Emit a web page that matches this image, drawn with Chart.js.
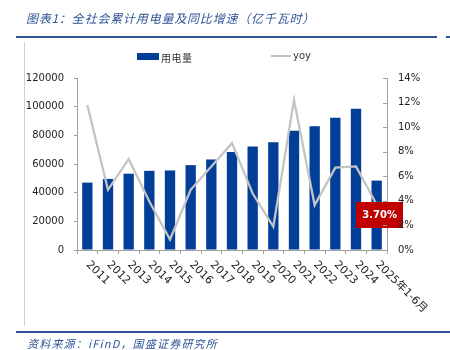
<!DOCTYPE html>
<html>
<head>
<meta charset="utf-8">
<script src="https://cdn.jsdelivr.net/npm/chart.js@4/dist/chart.umd.min.js"></script>
<style>
  html, body { margin: 0; padding: 0; background: #fff; }
  #wrap { position: relative; width: 450px; height: 350px; overflow: hidden; }
  #c { position: absolute; left: 0; top: 0; }
  .txt { position: absolute; white-space: nowrap; line-height: 1; }
  #title { left: 26px; top: 9px; font: italic 12px "Noto Sans CJK SC", sans-serif; letter-spacing: 0.8px; color: #2f5496; }
  #source { left: 27px; top: 335px; font: italic 11px "Noto Sans CJK SC", sans-serif; letter-spacing: 1.2px; color: #2f5496; }
  .rule { position: absolute; background: #2f5496; }
  #frame { position: absolute; left: 24px; top: 42px; width: 1px; height: 284px; background: #cfcfcf; }
  #lgBar { position: absolute; left: 137px; top: 53px; width: 22px; height: 7px; background: #003e98; }
  #lgBarTxt { left: 161px; top: 50px; font: 10px "Noto Sans CJK SC", sans-serif; color: #333; letter-spacing: 0.5px; }
  #lgLine { position: absolute; left: 271px; top: 55px; width: 20px; height: 2px; background: #c4c4c4; }
  #lgLineTxt { left: 293px; top: 50px; font: 10px "DejaVu Sans", sans-serif; color: #333; }
</style>
</head>
<body>
<div id="wrap">
  <canvas id="c" width="450" height="350" style="width:450px;height:350px"></canvas>
  <div class="txt" id="title">图表1：全社会累计用电量及同比增速（亿千瓦时）</div>
  <div class="rule" style="left:16px;top:36px;width:421px;height:2px"></div>
  <div class="rule" style="left:446px;top:36px;width:4px;height:2px"></div>
  <div id="frame"></div>
  <div id="lgBar"></div>
  <div class="txt" id="lgBarTxt">用电量</div>
  <div id="lgLine"></div>
  <div class="txt" id="lgLineTxt">yoy</div>
  <div class="rule" style="left:16px;top:331px;width:434px;height:1.5px"></div>
  <div class="txt" id="source">资料来源：iFinD，国盛证券研究所</div>
</div>
<script>
// Annual electricity consumption (100 million kWh) and growth rate (%)
const categories = ['2011', '2012', '2013', '2014', '2015', '2016', '2017', '2018',
                    '2019', '2020', '2021', '2022', '2023', '2024', '2025年1-6月'];
const consumption = [47001, 49591, 53223, 55233, 55500, 59198, 63077, 68449,
                     72255, 75110, 83128, 86372, 92241, 98521, 48418];
const yoy = [11.8, 4.9, 7.4, 3.95, 0.85, 4.9, 6.8, 8.7,
             4.6, 1.9, 12.2, 3.65, 6.7, 6.8, 3.70];
const leftTicks = { min: 0, max: 120000, step: 20000 };
const rightTicks = { min: 0, max: 14, step: 2 };

const axisGray = '#a0a0a0';
const tickFont = { family: 'DejaVu Sans', size: 10 };

// Slanted category labels, inward right-axis ticks and the badge on the latest growth value
const decorations = {
  id: 'decorations',
  afterDatasetsDraw(chart) {
    const ctx = chart.ctx;
    const meta = chart.getDatasetMeta(1);
    const last = meta.data.length - 1;
    const p = meta.data[last];
    const w = 47, h = 26;
    const cx = p.x + 3, cy = p.y + 10.5;
    ctx.save();
    ctx.fillStyle = '#c00000';
    ctx.fillRect(Math.round(cx - w / 2), Math.round(cy - h / 2), w, h);
    ctx.fillStyle = '#ffffff';
    ctx.font = 'bold 10px "DejaVu Sans"';
    ctx.textAlign = 'center';
    ctx.textBaseline = 'middle';
    ctx.fillText(yoy[last].toFixed(2) + '%', cx, cy + 0.5);
    ctx.restore();
  },
  afterDraw(chart) {
    const ctx = chart.ctx;
    const xs = chart.scales.x;
    const yr = chart.scales.y1;
    ctx.save();
    ctx.font = '11px "DejaVu Sans", "Noto Sans CJK SC"';
    ctx.fillStyle = '#222';
    ctx.textAlign = 'left';
    ctx.textBaseline = 'middle';
    chart.data.labels.forEach((lab, i) => {
      const x = xs.getPixelForTick(i);
      ctx.save();
      ctx.translate(x + 0.5, xs.top + 13);
      ctx.rotate(Math.PI / 4);
      ctx.fillText(lab, 0, 0);
      ctx.restore();
    });
    ctx.strokeStyle = axisGray;
    ctx.lineWidth = 1;
    yr.ticks.forEach(t => {
      const y = Math.round(yr.getPixelForValue(t.value)) + 0.5;
      ctx.beginPath();
      ctx.moveTo(yr.left - 4, y);
      ctx.lineTo(yr.left, y);
      ctx.stroke();
    });
    ctx.restore();
  }
};

new Chart(document.getElementById('c'), {
  data: {
    labels: categories,
    datasets: [
      {
        type: 'bar',
        label: '用电量',
        data: consumption,
        yAxisID: 'y',
        backgroundColor: '#003e98',
        borderWidth: 0,
        categoryPercentage: 1,
        barPercentage: 0.5,
        order: 1
      },
      {
        type: 'line',
        label: 'yoy',
        data: yoy,
        yAxisID: 'y1',
        borderColor: '#c4c4c4',
        borderWidth: 2.3,
        pointRadius: 0,
        tension: 0,
        order: 0
      }
    ]
  },
  options: {
    responsive: false,
    animation: false,
    devicePixelRatio: 1,
    layout: { padding: { top: 78, left: 0, right: 0, bottom: 0 } },
    plugins: { legend: { display: false }, tooltip: { enabled: false } },
    scales: {
      x: {
        type: 'category',
        offset: true,
        grid: { display: true, drawOnChartArea: false, drawTicks: true, tickLength: 4, color: axisGray, offset: true },
        border: { color: axisGray },
        ticks: { display: false },
        afterFit(s) { s.height = 100; }
      },
      y: {
        position: 'left',
        min: leftTicks.min,
        max: leftTicks.max,
        ticks: { stepSize: leftTicks.step, font: tickFont, color: '#222', padding: 10,
                 callback: v => String(v) },
        grid: { drawOnChartArea: false, tickLength: 3, color: axisGray },
        border: { color: axisGray },
        afterFit(s) { s.width = 77; }
      },
      y1: {
        position: 'right',
        min: rightTicks.min,
        max: rightTicks.max,
        ticks: { stepSize: rightTicks.step, font: tickFont, color: '#222', padding: 11, z: 1,
                 callback: v => v + '%' },
        grid: { drawOnChartArea: false, drawTicks: false, color: axisGray },
        border: { color: axisGray },
        afterFit(s) { s.width = 63; }
      }
    }
  },
  plugins: [decorations]
});
</script>
</body>
</html>
